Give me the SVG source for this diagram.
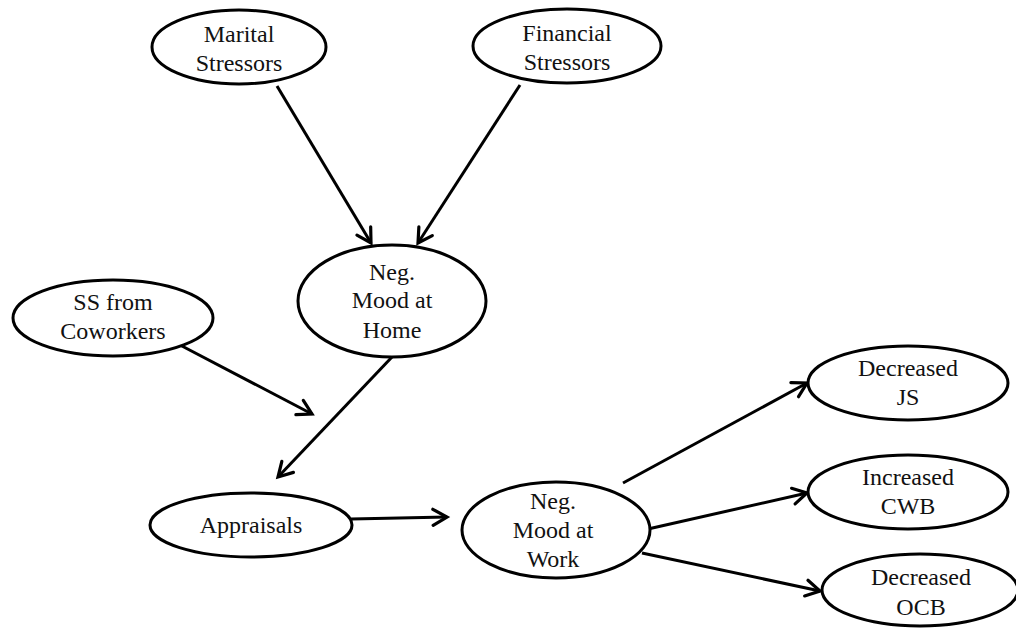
<svg xmlns="http://www.w3.org/2000/svg" width="1016" height="628" viewBox="0 0 1016 628">
<style>
  ellipse { fill: #fff; stroke: #000; stroke-width: 3; }
  .lbl { font-size: 24px; fill: #111; text-anchor: middle; }
  .edge { stroke: #000; stroke-width: 3; fill: none; marker-end: url(#arr); }
</style>
<defs>
  <marker id="arr" markerUnits="userSpaceOnUse" markerWidth="24" markerHeight="24" viewBox="-20 -12 24 24" refX="0" refY="0" orient="auto">
    <path d="M-14,-8 L0,0 L-14,8" fill="none" stroke="#000" stroke-width="3.2" stroke-linecap="round" stroke-linejoin="miter"/>
  </marker>
</defs>
<rect width="1016" height="628" fill="#fff"/>
<g id="connectors">
  <line class="edge" x1="277" y1="86" x2="371" y2="243"/>
  <line class="edge" x1="520" y1="85" x2="418" y2="243"/>
  <line class="edge" x1="180" y1="345" x2="312" y2="414"/>
  <line class="edge" x1="392" y1="357" x2="278" y2="477"/>
  <line class="edge" x1="351" y1="519" x2="447" y2="517"/>
  <line class="edge" x1="623" y1="483" x2="807" y2="383"/>
  <line class="edge" x1="648" y1="529" x2="807" y2="493"/>
  <line class="edge" x1="642" y1="553" x2="820" y2="591"/>
</g>
<g font-family="'Liberation Serif', 'DejaVu Serif', 'Times New Roman', serif">
<g id="marital">
  <ellipse cx="239" cy="47" rx="87" ry="37"/>
  <text class="lbl" x="239" y="42">Marital</text>
  <text class="lbl" x="239" y="71">Stressors</text>
</g>
<g id="financial">
  <ellipse cx="567" cy="46" rx="94" ry="37"/>
  <text class="lbl" x="567" y="41">Financial</text>
  <text class="lbl" x="567" y="70">Stressors</text>
</g>
<g id="home">
  <ellipse cx="392" cy="301" rx="94" ry="56"/>
  <text class="lbl" x="392" y="280">Neg.</text>
  <text class="lbl" x="392" y="308">Mood at</text>
  <text class="lbl" x="392" y="338">Home</text>
</g>
<g id="ss">
  <ellipse cx="113" cy="318" rx="100" ry="38"/>
  <text class="lbl" x="113" y="310">SS from</text>
  <text class="lbl" x="113" y="339">Coworkers</text>
</g>
<g id="appraisals">
  <ellipse cx="251" cy="525" rx="101" ry="32"/>
  <text class="lbl" x="251" y="533">Appraisals</text>
</g>
<g id="work">
  <ellipse cx="556" cy="530" rx="94" ry="48"/>
  <text class="lbl" x="553" y="509">Neg.</text>
  <text class="lbl" x="553" y="538">Mood at</text>
  <text class="lbl" x="553" y="567">Work</text>
</g>
<g id="js">
  <ellipse cx="908" cy="383" rx="100" ry="37"/>
  <text class="lbl" x="908" y="376">Decreased</text>
  <text class="lbl" x="908" y="405">JS</text>
</g>
<g id="cwb">
  <ellipse cx="908" cy="492" rx="100" ry="37"/>
  <text class="lbl" x="908" y="485">Increased</text>
  <text class="lbl" x="908" y="514">CWB</text>
</g>
<g id="ocb">
  <ellipse cx="920" cy="590" rx="98" ry="36"/>
  <text class="lbl" x="921" y="585">Decreased</text>
  <text class="lbl" x="921" y="615">OCB</text>
</g>
</g>
</svg>
